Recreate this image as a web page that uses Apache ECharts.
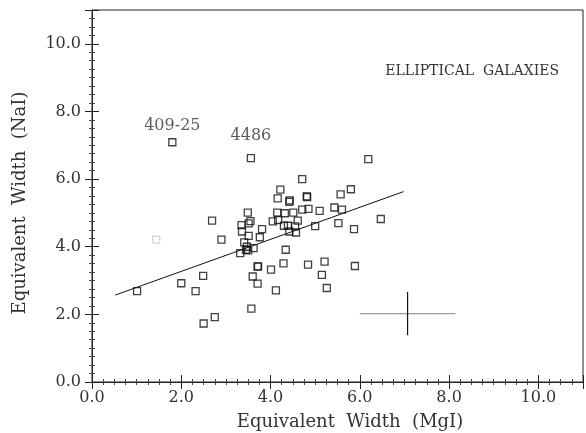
<!DOCTYPE html>
<html>
<head>
<meta charset="utf-8">
<script src="https://cdn.jsdelivr.net/npm/echarts@6/dist/echarts.min.js"></script>
<style>
html,body{margin:0;padding:0;background:#fff;}
#chart{width:586px;height:433px;}
</style>
</head>
<body>
<div id="chart"></div>
<script>
// Equivalent width MgI (x) and NaI (y) for elliptical galaxies
const mgI = [1.80,3.56,6.19,1.01,2.00,2.32,2.49,2.50,2.75,2.69,2.90,3.57,3.71,3.60,3.71,3.72,4.01,4.12,4.29,4.34,3.32,3.45,3.50,3.62,3.47,3.41,3.51,3.36,3.35,3.51,3.55,3.49,3.76,3.81,4.05,4.15,4.17,4.16,4.22,4.32,4.30,4.42,4.43,4.39,4.42,4.51,4.55,4.57,4.61,4.71,4.71,4.81,4.82,4.85,5.00,5.10,4.84,5.21,5.15,5.26,5.43,5.57,5.52,5.60,5.80,5.87,5.89,6.47];
const naI = [7.09,6.62,6.59,2.69,2.92,2.69,3.14,1.73,1.92,4.77,4.21,2.17,2.91,3.12,3.41,3.42,3.32,2.71,3.51,3.91,3.81,3.91,3.89,3.96,4.00,4.13,4.32,4.45,4.64,4.69,4.76,5.01,4.28,4.52,4.75,5.01,4.79,5.43,5.69,4.99,4.62,5.33,5.37,4.62,4.45,5.01,4.60,4.42,4.77,5.10,6.00,5.49,5.47,5.12,4.61,5.06,3.47,3.56,3.17,2.78,5.16,5.55,4.70,5.10,5.70,4.52,3.43,4.82];
const pointNames = {0:'409-25', 1:'4486'};
// faint (uncertain) point
const faintX = [1.44];
const faintY = [4.21];
// regression line end points
const fitX = [0.52, 6.98];
const fitY = [2.57, 5.63];
// representative error bar
const errCenter = [7.07, 2.02];
const errX = [1.07];
const errY = [0.64];
const xTicks = ['0.0','2.0','4.0','6.0','8.0','10.0'];

const FONT = 'DejaVu Serif';
const TXT = '#333';

const mainData = mgI.map((x,i) => {
  const d = {value:[x, naI[i]]};
  if (pointNames[i] !== undefined) {
    d.label = {show:true, formatter: pointNames[i], position:'top',
      distance: i === 0 ? 4 : 10, color:TXT, fontFamily:FONT, fontSize:16};
  }
  return d;
});

function fmt(v){
  const k = v/2;
  if (Math.abs(k - Math.round(k)) < 1e-6 && v <= 10) return xTicks[Math.round(k)];
  return '';
}

const baseAxis = (pos, show, margin) => ({
  type:'value', min:0, max:11, interval:2, position:pos,
  axisLine:{show:true, lineStyle:{color:'#222', width:1}},
  axisTick:{show:true, inside:true, length:7, lineStyle:{color:'#222', width:1}},
  minorTick:{show:true, splitNumber:8, length:3, lineStyle:{color:'#444', width:1}},
  splitLine:{show:false},
  minorSplitLine:{show:false},
  axisLabel:{show:show, formatter:fmt, color:TXT, fontFamily:FONT, fontSize:16, margin:margin}
});

const chart = echarts.init(document.getElementById('chart'), null, {renderer:'canvas'});
chart.setOption({
  animation:false,
  backgroundColor:'#fff',
  grid:{left:92, right:2.5, top:10, bottom:51, show:true, borderColor:'#222', borderWidth:1},
  xAxis:[baseAxis('bottom', true, 8), baseAxis('top', false, 8)],
  yAxis:[baseAxis('left', true, 11), baseAxis('right', false, 8)],
  graphic:[
    {type:'text', right:27, top:64, style:{text:'ELLIPTICAL  GALAXIES', fill:TXT, font:'14px "DejaVu Serif"'}},
    {type:'text', x:350, y:422, style:{text:'Equivalent  Width  (MgI)', fill:TXT, font:'18px "DejaVu Serif"', textAlign:'center', textVerticalAlign:'middle'}},
    {type:'text', x:20, y:203, rotation:Math.PI/2, style:{text:'Equivalent  Width  (NaI)', fill:TXT, font:'18px "DejaVu Serif"', textAlign:'center', textVerticalAlign:'middle'}}
  ],
  series:[
    {type:'line', data:fitX.map((x,i)=>[x, fitY[i]]), showSymbol:false, symbol:'none',
      lineStyle:{color:'#111', width:1}, z:2},
    {type:'line', data:[[errCenter[0]-errX[0], errCenter[1]],[errCenter[0]+errX[0], errCenter[1]]], symbol:'none',
      lineStyle:{color:'#999', width:1.2}, z:2},
    {type:'line', data:[[errCenter[0], errCenter[1]-errY[0]],[errCenter[0], errCenter[1]+errY[0]]], symbol:'none',
      lineStyle:{color:'#111', width:1.2}, z:2},
    {type:'scatter', data:mainData, symbol:'rect', symbolSize:7,
      itemStyle:{color:'rgba(0,0,0,0)', borderColor:'#111', borderWidth:1.3}, z:3},
    {type:'scatter', data:faintX.map((x,i)=>[x, faintY[i]]), symbol:'rect', symbolSize:7,
      itemStyle:{color:'rgba(0,0,0,0)', borderColor:'#999', borderWidth:1.2, borderType:'dotted'}, z:3}
  ]
});
</script>
</body>
</html>
